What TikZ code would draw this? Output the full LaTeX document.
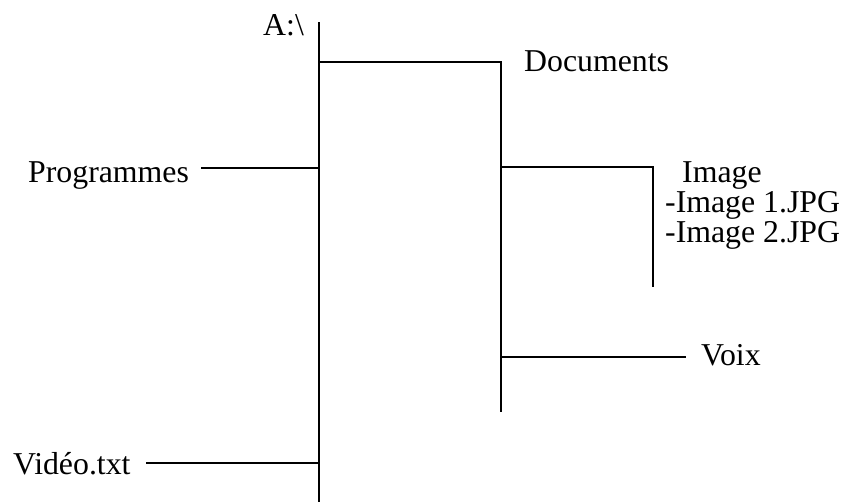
\documentclass[tikz,border=0pt]{standalone}
\usepackage{fontspec}
\setmainfont{Liberation Serif}
\begin{document}
\begin{tikzpicture}[x=1pt,y=-1pt,
  lbl/.style={anchor=base west,inner sep=0pt,font=\fontsize{31.8}{36}\selectfont},
  wire/.style={line width=1.5pt,line cap=rect}]
\useasboundingbox (0,0) rectangle (847,502);
% labels
\node[lbl] (root) at (263,36) {A:\textbackslash};
\node[lbl] (docs) at (524,72) {Documents};
\node[lbl] (prog) at (28,183) {Programmes};
\node[lbl] (img) at (682,183) {Image};
\node[lbl] (img1) at (665,213) {-Image 1.JPG};
\node[lbl] (img2) at (665,243) {-Image 2.JPG};
\node[lbl] (voix) at (701,366) {Voix};
\node[lbl] (video) at (13,475) {Vidéo.txt};
% tree coordinates
\coordinate (mTop) at (319,23);
\coordinate (mBot) at (319,502);
\coordinate (mDoc) at (319,62);
\coordinate (dTop) at (501,62);
\coordinate (dBot) at (501,411);
\coordinate (dImg) at (501,167);
\coordinate (iTop) at (653,167);
\coordinate (iBot) at (653,286);
\coordinate (dVoix) at (501,357);
\coordinate (vEnd) at (685,357);
\coordinate (pEnd) at (202,168);
\coordinate (mProg) at (319,168);
\coordinate (vidEnd) at (147,463);
\coordinate (mVid) at (319,463);
% connectors
\draw[wire] (mTop) -- (mBot);
\draw[wire] (mDoc) -- (dTop) -- (dBot);
\draw[wire] (dImg) -- (iTop) -- (iBot);
\draw[wire] (dVoix) -- (vEnd);
\draw[wire] (pEnd) -- (mProg);
\draw[wire] (vidEnd) -- (mVid);
\end{tikzpicture}
\end{document}
